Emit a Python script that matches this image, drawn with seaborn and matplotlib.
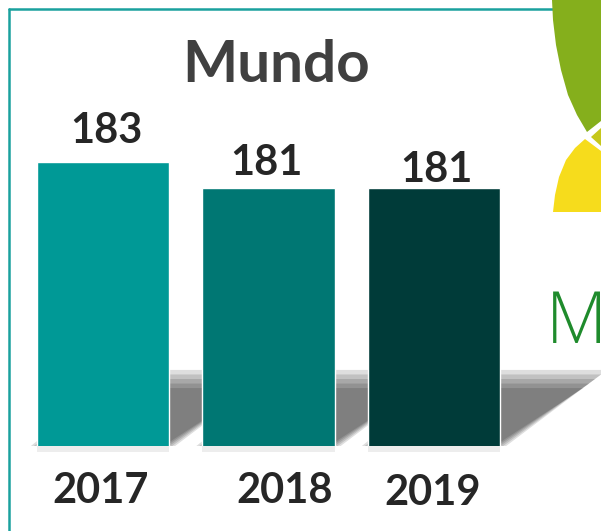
"""
Mundo - gráfico de barras 2017-2019
"""

import numpy as np
import matplotlib.pyplot as plt
from matplotlib.patches import Polygon
from matplotlib.lines import Line2D
import seaborn as sns

# datos
years = ['2017', '2018', '2019']
values = [183, 181, 181]
bar_colors = ['#009996', '#007773', '#003b39']
title = 'Mundo'

# offsets (pixeles) de las etiquetas
value_dx = [3, -2.5, 2]
value_dy = [19, 13, 6]
year_dx = [-2, 16.5, -1]
year_dy = [-57, -57, -59]

W, H = 601, 531
sns.set_theme(style='white')
plt.rcParams['font.family'] = ['Lato', 'DejaVu Sans']

fig = plt.figure(figsize=(W / 100, H / 100), dpi=100)
fig.patch.set_facecolor('white')


def px(x, y):
    """pixel (desde arriba) -> coordenadas de figura"""
    return (x / W, 1 - y / H)


# ejes: base de las barras a 85 px desde abajo, 13 px por unidad
y_bottom = 161.15
ax = fig.add_axes([20.25 / W, 85 / H, 496.5 / W, 446 / H])
ax.set_facecolor('none')

sns.barplot(x=years, y=values, hue=years, palette=bar_colors, legend=False,
            width=0.8, saturation=1, ax=ax, zorder=3)
ax.set_xlim(-0.5, 2.5)
ax.set_ylim(y_bottom, y_bottom + 446 / 13)
ax.set_axis_off()

# sombra inclinada detras de cada barra
sh_h = 67 / 13
sh_dx = 95 / 165.5
for bar in ax.patches:
    x0 = bar.get_x()
    x1 = x0 + bar.get_width()
    for k in range(5):
        g = (k - 2) * 0.018
        gy = (k - 2) * 0.35
        pts = [(x0 + g, y_bottom), (x1 - g, y_bottom),
               (x1 + sh_dx - g * 2, y_bottom + sh_h - gy),
               (x0 + sh_dx + g, y_bottom + sh_h - gy)]
        ax.add_patch(Polygon(pts, closed=True, facecolor='black', edgecolor='none',
                             alpha=0.13, zorder=1, clip_on=False))
    # sombra suave debajo de la barra
    ax.add_patch(Polygon([(x0, y_bottom), (x1, y_bottom), (x1, y_bottom - 0.45),
                          (x0, y_bottom - 0.45)], closed=True, facecolor='black',
                         edgecolor='none', alpha=0.07, zorder=1, clip_on=False))

# etiquetas de valor
for i, v in enumerate(values):
    ax.annotate(str(v), xy=(i, v), xytext=(value_dx[i], value_dy[i]),
                textcoords='offset pixels', ha='center', va='baseline',
                fontsize=30, fontweight='bold', color='#262626',
                annotation_clip=False)

# etiquetas de año
for i, yr in enumerate(years):
    ax.annotate(yr, xy=(i, 0), xycoords=('data', 'axes fraction'),
                xytext=(year_dx[i], year_dy[i]), textcoords='offset pixels',
                ha='center', va='baseline', fontsize=30, fontweight='bold',
                color='#262626', annotation_clip=False)

# titulo
fig.text(*px(276, 82), title, ha='center', va='baseline', fontsize=42,
         fontweight='bold', color='#404040')

# marco
fig.add_artist(Line2D([9 / W, 1.0], [1 - 8.5 / H] * 2, color='#1aa19e', lw=1.8))
fig.add_artist(Line2D([9 / W] * 2, [0, 1 - 8.5 / H], color='#1aa19e', lw=1.8))

# logo (decoracion a la derecha)
green = [(552, 0), (553, 20), (556, 45), (561, 70), (568, 95), (577, 115),
         (587, 132), (601, 121), (601, 0)]
lime = [(591, 137), (601, 128), (601, 146)]
yellow = [(585, 139), (575, 148), (566, 160), (559, 177), (555, 195), (553, 212),
          (601, 212), (601, 151)]
for shape, col in [(green, '#85af1c'), (lime, '#c6c71b'), (yellow, '#f6dc1c')]:
    fig.add_artist(Polygon([px(x, y) for x, y in shape], closed=True,
                           transform=fig.transFigure, facecolor=col,
                           edgecolor='none', zorder=5))

fig.text(*px(546, 343), 'M', ha='left', va='baseline', fontsize=51,
         family=['Open Sans'], fontweight='light', color='#1f8b2c')

fig.savefig('out.png', dpi=100)
